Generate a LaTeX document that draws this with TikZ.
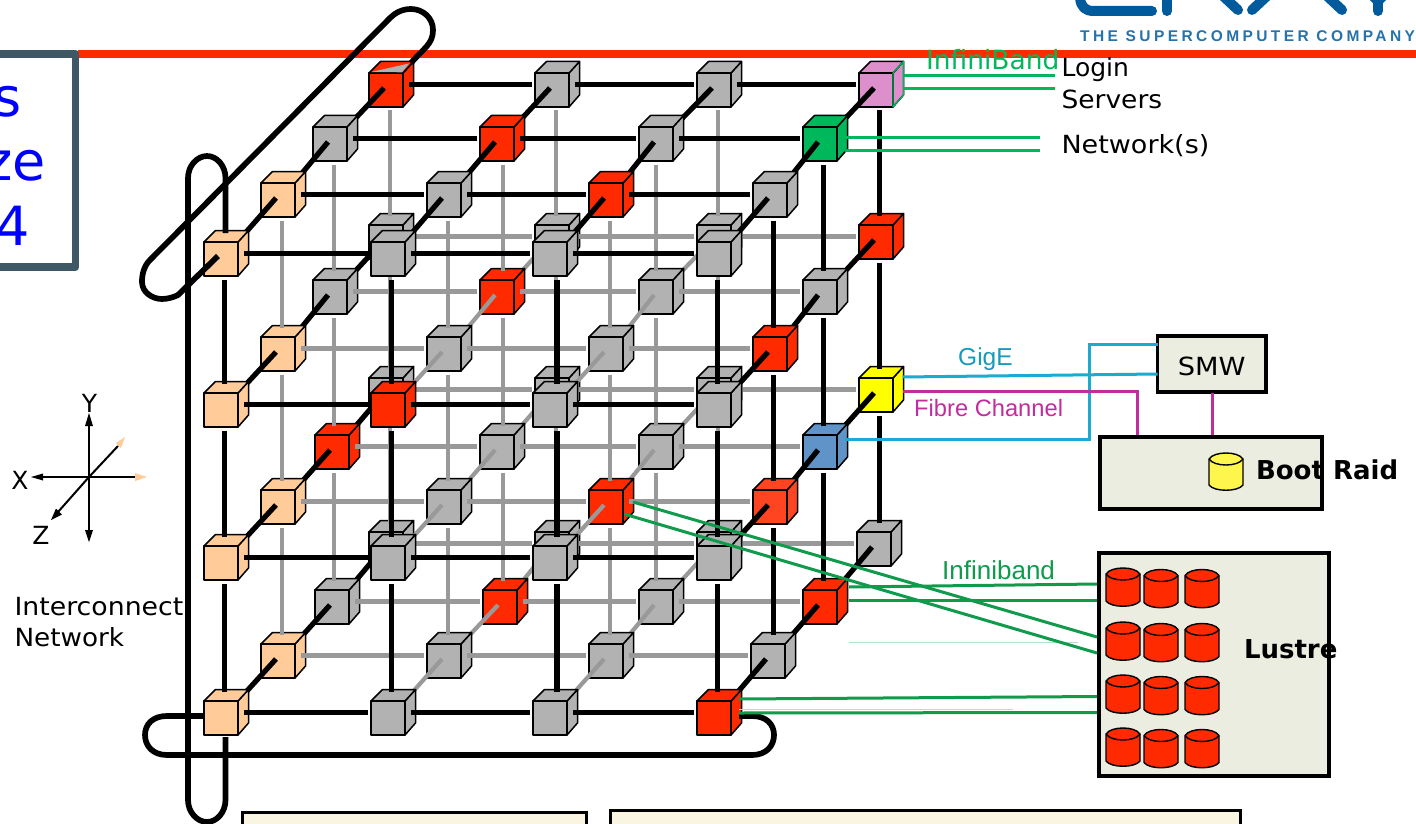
\documentclass[tikz,border=0pt]{standalone}
\usepackage{fontspec}
\setmainfont{DejaVu Sans}
\newfontfamily\arialf{Liberation Sans}
\usetikzlibrary{calc}
\definecolor{redbar}{HTML}{FF2A00}
\definecolor{slateb}{HTML}{3F5866}
\definecolor{cgray}{HTML}{B2B2B2}
\definecolor{cred}{HTML}{FF2A00}
\definecolor{corange}{HTML}{FF4422}
\definecolor{cpeach}{HTML}{FFCC99}
\definecolor{cpink}{HTML}{DD8FCB}
\definecolor{cgreen}{HTML}{00B85C}
\definecolor{cblue}{HTML}{6094C8}
\definecolor{cyellow}{HTML}{FFFF00}
\definecolor{linkgray}{HTML}{999999}
\definecolor{boxfill}{HTML}{EBEDE0}
\definecolor{creamfill}{HTML}{F9F5E0}
\definecolor{igreen}{HTML}{109A4C}
\definecolor{lgreen}{HTML}{00B85C}
\definecolor{cyanl}{HTML}{1AACD0}
\definecolor{magl}{HTML}{BF2E9C}
\definecolor{crayblue}{HTML}{005A9C}
\tikzset{
  blklink/.style={draw=black,line width=5.2pt},
  grylink/.style={draw=linkgray,line width=4.2pt},
  cubeface/.style={draw=black,line width=1.5pt,line join=round},
  loopline/.style={draw=black,line width=5.7pt,line join=round},
  plain/.style={inner sep=0pt,outer sep=0pt,font=\fontsize{25}{25}\selectfont,text=black},
  boxnode/.style={draw=black,fill=boxfill,inner sep=0pt,outer sep=0pt},
  lowbox/.style={draw=black,fill=creamfill,line width=3pt},
  ibgreen/.style={draw=igreen,line width=3pt},
  ibfaint/.style={draw=igreen!30,line width=1pt},
  logingreen/.style={draw=lgreen,line width=3pt},
  gige/.style={draw=cyanl,line width=3pt,line join=miter},
  fibre/.style={draw=magl,line width=3pt,line join=miter},
  axisline/.style={draw=black,line width=2pt},
  logostroke/.style={draw=crayblue,line width=10pt,line cap=round,line join=round},
}
\newcommand{\place}[4]{\coordinate (c#1) at (#2,#3);\expandafter\def\csname col#1\endcsname{#4}}
\newcommand{\barrel}[4]{% x left, y top, width, height / fill
  \path[draw=black,fill=#4,line width=1.4pt]
    (#1,#2+6) -- (#1,#2+#3-6) .. controls (#1+5,#2+#3+1) and (#1+29,#2+#3+1) .. (#1+34,#2+#3-6)
    -- (#1+34,#2+6) .. controls (#1+29,#2-2) and (#1+5,#2-2) .. (#1,#2+6) -- cycle;
  \path[draw=black,line width=1.4pt]
    (#1,#2+6) .. controls (#1+5,#2+14) and (#1+29,#2+14) .. (#1+34,#2+6);
}
\begin{document}
\begin{tikzpicture}[x=1pt,y=-1pt]
\useasboundingbox (0,0) rectangle (1416,824);
\fill[white] (0,0) rectangle (1416,824);

% top bar and logo
\fill[redbar] (78,50) rectangle (1416,58);
\coordinate (lg1) at (1080,-2);
\draw[logostroke] (lg1) .. controls (1081,7) and (1085,11) .. (1094,11) -- (1152,11);
\draw[logostroke] (1167,-2) -- (1167,11);
\draw[logostroke] (1223,-4) -- (1238,10);
\draw[logostroke] (1252,10) -- (1267,-4);
\draw[logostroke] (1327,-4) -- (1342,10);
\draw[logostroke] (1378,-2) -- (1378,11);
\draw[logostroke] (1372,-5) -- (1378,1) -- (1384,-5);
\node[anchor=base west,inner sep=0pt,text=crayblue!85!white] (logotxt) at (1080,41.5)
  {\arialf\fontsize{15.5}{15.5}\selectfont\addfontfeature{LetterSpace=22}\bfseries THE SUPERCOMPUTER COMPANY};

% title box
\draw[draw=slateb,line width=7.5pt,line join=round] (-10,54) -- (75.5,54) -- (75.5,267) -- (-10,267);
\node[anchor=base east,inner sep=0pt,text=blue,font=\fontsize{54}{54}\selectfont] (t1) at (22,117) {s};
\node[anchor=base east,inner sep=0pt,text=blue,font=\fontsize{54}{54}\selectfont] (t2) at (46,180) {ze};
\node[anchor=base east,inner sep=0pt,text=blue,font=\fontsize{54}{54}\selectfont] (t3) at (30,245) {4};

% lower boxes
\draw[lowbox] (242,840) -- (242,812.5) -- (586,812.5) -- (586,840);
\draw[lowbox] (610,840) -- (610,810) -- (1240,810) -- (1240,840);

% cube positions: layer, row, column
\place{300}{369}{73}{cred}\place{301}{535}{73}{cgray}\place{302}{697}{73}{cgray}\place{303}{859}{73}{cpink}
\place{310}{369}{225}{cgray}\place{311}{535}{225}{cgray}\place{312}{697}{225}{cgray}\place{313}{859}{225}{cred}
\place{320}{369}{378}{cgray}\place{321}{535}{378}{cgray}\place{322}{697}{378}{cgray}\place{323}{859}{378}{cyellow}
\place{330}{369}{532}{cgray}\place{331}{535}{532}{cgray}\place{332}{697}{532}{cgray}\place{333}{857}{532}{cgray}
\place{200}{313}{127}{cgray}\place{201}{480}{127}{cred}\place{202}{639}{127}{cgray}\place{203}{803}{127}{cgreen}
\place{210}{313}{280}{cgray}\place{211}{480}{280}{cred}\place{212}{639}{280}{cgray}\place{213}{803}{280}{cgray}
\place{220}{315}{435}{cred}\place{221}{480}{435}{cgray}\place{222}{639}{435}{cgray}\place{223}{803}{435}{cblue}
\place{230}{315}{590}{cgray}\place{231}{483}{590}{cred}\place{232}{639}{590}{cgray}\place{233}{803}{590}{cred}
\place{100}{261}{183}{cpeach}\place{101}{427}{183}{cgray}\place{102}{589}{183}{cred}\place{103}{753}{183}{cgray}
\place{110}{261}{337}{cpeach}\place{111}{427}{337}{cgray}\place{112}{589}{337}{cgray}\place{113}{753}{337}{cred}
\place{120}{261}{490}{cpeach}\place{121}{427}{490}{cgray}\place{122}{589}{490}{cred}\place{123}{753}{490}{corange}
\place{130}{261}{644}{cpeach}\place{131}{427}{644}{cgray}\place{132}{589}{644}{cgray}\place{133}{751}{644}{cgray}
\place{000}{204}{242}{cpeach}\place{001}{371}{242}{cgray}\place{002}{533}{242}{cgray}\place{003}{697}{242}{cgray}
\place{010}{204}{393}{cpeach}\place{011}{371}{393}{cred}\place{012}{533}{393}{cgray}\place{013}{697}{393}{cgray}
\place{020}{204}{546}{cpeach}\place{021}{371}{546}{cgray}\place{022}{533}{546}{cgray}\place{023}{697}{546}{cgray}
\place{030}{204}{701}{cpeach}\place{031}{371}{701}{cgray}\place{032}{533}{701}{cgray}\place{033}{697}{701}{cred}

\foreach \L in {3,2,1,0} {
  % cubes of this layer
  \foreach \R in {0,1,2,3} \foreach \C in {0,1,2,3} {
    \edef\fc{\csname col\L\R\C\endcsname}
    \begin{scope}[shift={(c\L\R\C)}]
      \path[cubeface,fill=\fc] (34,0) -- (44.5,-11.5) -- (44.5,22) -- (34,34) -- cycle;
      \path[cubeface,fill=\fc] (0,0) -- (11.5,-11.5) -- (44.5,-11.5) -- (34,0) -- cycle;
      \path[cubeface,fill=\fc] (0,0) rectangle (34,34);
    \end{scope}
  }
  % horizontal links
  \foreach \R in {0,1,2,3} \foreach \C/\N in {0/1,1/2,2/3} {
    \def\st{grylink}\ifnum\L=0 \def\st{blklink}\fi\ifnum\R=0 \def\st{blklink}\fi
    \draw[\st] ($(c\L\R\C)+(40,11.5)$) -- ($(c\L\R\N)+(-3,11.5)$);
  }
  % vertical links
  \foreach \C in {0,1,2,3} \foreach \R/\N in {0/1,1/2,2/3} {
    \def\st{grylink}\ifnum\L=0 \def\st{blklink}\fi\ifnum\C=3 \def\st{blklink}\fi
    \def\dx{20.8}
    \ifnum\L\C=02 \def\dx{24}\fi
    \ifnum\L\C=21 \def\dx{23}\fi
    \ifnum\L\C=22 \def\dx{17}\fi
    \coordinate (vs) at ($(c\L0\C)+(\dx,0)$);
    \coordinate (va) at ($(c\L\R\C)+(0,37.5)$);
    \coordinate (vb) at ($(c\L\N\C)+(0,-9)$);
    \draw[\st] (vs |- va) -- (vs |- vb);
  }
  % links towards the next layer
  \ifnum\L>0
    \pgfmathtruncatemacro{\P}{\L-1}
    \foreach \R in {0,1,2,3} \foreach \C in {0,1,2,3} {
      \def\st{grylink}\ifnum\R=0 \def\st{blklink}\fi\ifnum\C=0 \def\st{blklink}\fi\ifnum\C=3 \def\st{blklink}\fi
      \draw[\st] ($(c\L\R\C)+(15,15)$) -- ($(c\P\R\C)+(22,13)$);
    }
  \fi
}

% details on the back corner cubes
\fill[cgray] (371,72) -- (409,63.5) -- (402,72.3) -- cycle;
\draw[draw=lgreen,line width=1.2pt,line join=round] (893,73) -- (903.5,61.5) -- (903.5,95) -- (893,107) -- cycle;

% wrap-around loops
\coordinate (l1a) at ($(c000)+(14,14)$);
\coordinate (l1b) at (411,63);
\draw[loopline] (l1b) .. controls (424,48) and (433,44) .. (433,30)
  .. controls (433,18) and (423,9) .. (411,9)
  .. controls (402,9) and (395,13) .. (390,18)
  -- (150,260) .. controls (144,266) and (142,274) .. (142,282)
  .. controls (142,292) and (152,299) .. (162,299)
  .. controls (168,299) and (174,297) .. (178,295) -- (l1a);
\coordinate (l2a) at ($(c000)+(21.5,-9)$);
\coordinate (l2b) at ($(c030)+(21.5,36)$);
\draw[loopline] (l2b) -- (225.5,800) .. controls (225.5,812) and (217,822) .. (207,822)
  .. controls (197,822) and (188,812) .. (188,800) -- (188,178)
  .. controls (188,166) and (197,156) .. (207,156)
  .. controls (217,156) and (225.5,166) .. (225.5,178) -- (l2a);
\coordinate (l3a) at ($(c030)+(0,15)$);
\coordinate (l3b) at ($(c033)+(42,15)$);
\draw[loopline] (l3a) -- (167,716) .. controls (153,716) and (145,724) .. (145,735)
  .. controls (145,746) and (153,755) .. (167,755) -- (752,755)
  .. controls (766,755) and (774,746) .. (774,735)
  .. controls (774,724) and (766,716) .. (752,716) -- (l3b);

% axes
\coordinate (o) at (89,477);
\draw[axisline] (o) -- (89,425);
\fill (89,413) -- (85,426) -- (93,426) -- cycle;
\draw[axisline] (o) -- (89,530);
\fill (89,542) -- (85,530) -- (93,530) -- cycle;
\draw[axisline] (o) -- (42,477);
\fill (31,477) -- (43,473.5) -- (43,480.5) -- cycle;
\draw[axisline] (o) -- (136,477);
\fill[cpeach] (147,477) -- (135,473) -- (135,481) -- cycle;
\draw[axisline] (o) -- (58,512);
\fill (51,520) -- (56,508.5) -- (62,514.5) -- cycle;
\draw[axisline] (o) -- (118,446);
\fill[cpeach] (125,437) -- (116,443) -- (121,448) -- cycle;
\node[plain] (ly) at (89.5,403) {Y};
\node[plain] (lx) at (20,480.5) {X};
\node[plain] (lz) at (41,535) {Z};

\node[plain,anchor=base west] (ic1) at (14.5,615) {\scalebox{1.07}[1]{Interconnect}};
\node[plain,anchor=base west] (ic2) at (14.5,646) {\scalebox{1.05}[1]{Network}};

% login servers / networks
\coordinate (ls1) at (902.5,76);\coordinate (le1) at (1055,76);
\coordinate (ls2) at (902.5,89);\coordinate (le2) at (1055,89);
\coordinate (ns1) at (845,138);\coordinate (ne1) at (1040,138);
\coordinate (ns2) at (845,151);\coordinate (ne2) at (1040,151);
\draw[logingreen] (ls1) -- (le1);
\draw[logingreen] (ls2) -- (le2);
\draw[logingreen] (ns1) -- (ne1);
\draw[logingreen] (ns2) -- (ne2);
\node[plain,anchor=base west,text=lgreen,font=\fontsize{26.5}{26.5}\selectfont] (ibt) at (926,69.5) {InfiniBand};
\node[plain,anchor=base west] (login) at (1061.5,77) {Login};
\node[plain,anchor=base west] (servers) at (1061.5,108.5) {\scalebox{1.06}[1]{Servers}};
\node[plain,anchor=base west] (netw) at (1061.5,153.5) {\scalebox{1.08}[1]{Network(s)}};

% SMW and boot raid
\node[boxnode,line width=3.5pt,minimum width=108.5pt,minimum height=56pt] (smw) at (1211.75,364) {};
\node[plain] at (smw.center) [yshift=-2pt] (smwt) {\scalebox{1.09}[1]{SMW}};
\node[boxnode,line width=4pt,minimum width=222pt,minimum height=72pt] (boot) at (1211,473) {};
\coordinate (g1s) at (902.5,377);\coordinate (g1e) at (smw.west |- 0,374);
\draw[gige] (g1s) -- (g1e);
\coordinate (g2s) at (845,439);\coordinate (g2e) at (smw.west |- 0,344);
\draw[gige] (g2s) -- (1089,439) -- (1089,344) -- (g2e);
\coordinate (fs) at (902.5,391);
\draw[fibre] (fs) -- (1137,391) -- (1137,435);
\draw[fibre] (1212.5,393) -- (1212.5,435);
\node[anchor=base west,inner sep=0pt,text=cyanl!90!black,font=\arialf\fontsize{24.5}{24.5}\selectfont] (gt) at (958,365) {GigE};
\node[anchor=base west,inner sep=0pt,text=magl,font=\arialf\fontsize{23.7}{23.7}\selectfont] (ft) at (914,416) {Fibre Channel};
\barrel{1209}{453}{38}{yellow!70!white}
\node[plain,anchor=base west,font=\bfseries\fontsize{26}{26}\selectfont] (bt) at (1256,479) {Boot Raid};

% lustre
\node[boxnode,line width=4pt,minimum width=230pt,minimum height=223pt] (lus) at (1213.5,664.5) {};
\coordinate (i1s) at (849,587);\coordinate (i1e) at (1097,584);
\coordinate (i2s) at (849,600);\coordinate (i2e) at (1097,600);
\coordinate (i3s) at (633,502);\coordinate (i3e) at (1097,637);
\coordinate (i4s) at (624,514);\coordinate (i4e) at (1097,653);
\coordinate (i5s) at (739,699);\coordinate (i5e) at (1097,696.5);
\coordinate (i6s) at (739,713);\coordinate (i6e) at (1097,712.5);
\draw[ibfaint] (849,642) -- (1078,642);
\draw[ibfaint] (739,709.5) -- (1013,709.5);
\draw[ibgreen] (i1s) -- (i1e);
\draw[ibgreen] (i2s) -- (i2e);
\draw[ibgreen] (i3s) -- (i3e);
\draw[ibgreen] (i4s) -- (i4e);
\draw[ibgreen] (i5s) -- (i5e);
\draw[ibgreen] (i6s) -- (i6e);
\foreach \y in {568,622,675,728} {
  \barrel{1106}{\y}{39}{cred}
  \barrel{1144}{\y+1.5}{39}{cred}
  \barrel{1185}{\y+1.5}{39}{cred}
}
\node[anchor=base west,inner sep=0pt,text=igreen,font=\arialf\fontsize{26}{26}\selectfont] (ib2) at (942,579) {Infiniband};
\node[plain,anchor=base west,font=\bfseries\fontsize{26}{26}\selectfont] (lt) at (1244,658) {Lustre};
\end{tikzpicture}
\end{document}
